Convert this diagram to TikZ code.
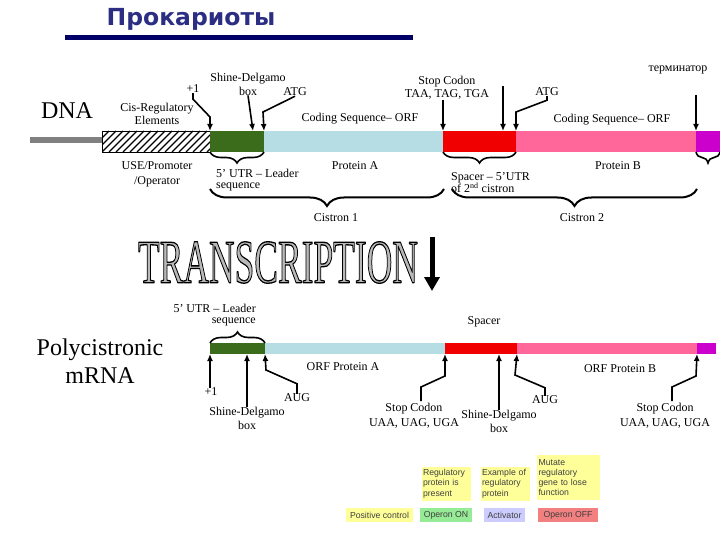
\documentclass[tikz,border=0pt]{standalone}
\usepackage{fontspec}
\setmainfont{Liberation Serif}
\newfontfamily\titlefont{DejaVu Sans}
\newfontfamily\legendfont{Liberation Sans}
\usepackage{graphicx}
\usetikzlibrary{decorations.pathreplacing,arrows.meta,calc}
\definecolor{utrgreen}{RGB}{59,108,28}
\definecolor{orfblue}{RGB}{183,221,228}
\definecolor{spacerred}{RGB}{240,0,0}
\definecolor{orfpink}{RGB}{255,102,153}
\definecolor{termpurple}{RGB}{204,0,204}
\definecolor{titleblue}{RGB}{43,46,131}
\definecolor{rulenavy}{RGB}{0,0,102}
\definecolor{dnagray}{RGB}{128,128,128}
\definecolor{legyellow}{RGB}{255,255,153}
\definecolor{leggreen}{RGB}{150,235,150}
\definecolor{legviolet}{RGB}{204,204,255}
\definecolor{legred}{RGB}{242,128,128}
\newcommand\outlinedword[1]{{\fontsize{62}{62}\selectfont\color{gray!55}\special{pdf:literal direct 2 Tr 1.3 w 1 j 0 0 0 RG}#1\special{pdf:literal direct 0 Tr}}}
\begin{document}
\begin{tikzpicture}[x=1pt,y=-1pt,
  lbl/.style={font=\fontsize{12}{13}\selectfont, inner sep=0pt, align=center},
  biglbl/.style={font=\fontsize{24}{28}\selectfont, inner sep=0pt, align=center},
  seg/.style={inner sep=0pt, outer sep=0pt, draw=none},
  ptr/.style={line width=1.6pt, -{Latex[length=7pt,width=6pt]}},
  brc/.style={line width=1.6pt, decorate, decoration={brace, amplitude=11pt}},
  bigbrc/.style={line width=2pt, decorate, decoration={brace, amplitude=17pt}},
  legbox/.style={font=\legendfont\fontsize{8.7}{10.3}\selectfont, text=black!75, inner sep=1.5pt, align=left, anchor=center},
]
\useasboundingbox (0,0) rectangle (720,540);

% title
\node[font=\titlefont\bfseries\fontsize{23.5}{26}\selectfont, text=titleblue, anchor=base, inner sep=0pt] (title) at (191,26) {Прокариоты};
\fill[rulenavy] (65,35) rectangle (413,40);

% ---------- DNA ----------
\node[biglbl] (dnalbl) at (67,111) {DNA};
\coordinate (gl) at (30,140);
\coordinate (gr) at (102,140);
\draw[line width=6pt, dnagray] (gl) -- (gr);
\begin{scope}
  \clip (102,131) rectangle (210,152);
  \foreach \i in {81,88,...,214} \draw[line width=1.3pt] (\i,152) -- (\i+21,131);
\end{scope}
\node[seg, draw=black, line width=0.8pt, minimum width=108pt, minimum height=21pt] (dhatch) at (156,141.5) {};
\node[seg, fill=utrgreen, minimum width=54pt, minimum height=21pt] (dgreen) at (237,141.5) {};
\node[seg, fill=orfblue, minimum width=179pt, minimum height=21pt] (dblue) at (353.5,141.5) {};
\node[seg, fill=spacerred, minimum width=73pt, minimum height=21pt] (dred) at (479.5,141.5) {};
\node[seg, fill=orfpink, minimum width=180pt, minimum height=21pt] (dpink) at (606,141.5) {};
\node[seg, fill=termpurple, minimum width=24pt, minimum height=21pt] (dpurple) at (708,141.5) {};

\node[lbl] (cis) at (157,114) {Cis-Regulatory\\Elements};
\node[lbl, font=\fontsize{12}{15}\selectfont] (use) at (157,174) {USE/Promoter\\/Operator};
\node[lbl] (p1) at (193,89) {+1};
\node[lbl, font=\fontsize{12}{14}\selectfont] (sd) at (248,84) {Shine-Delgamo\\box};
\node[lbl] (atg) at (295,92) {ATG};
\node[lbl] (cds1) at (360,119) {Coding Sequence– ORF};
\node[lbl] (stop) at (447,88) {Stop Codon\\TAA, TAG, TGA};
\node[lbl] (atg2) at (547,92) {ATG};
\node[lbl] (cds2) at (612,120) {Coding Sequence– ORF};
\node[lbl] (term) at (678,70) {терминатор};

\coordinate (sdhit) at (253,131);
\coordinate (sd2a) at (503,86);
\coordinate (terma) at (696,95);
\draw[ptr] (p1.south) -- ++(0,6) -- (210,117) -- (dgreen.north west);
\draw[ptr] (sd.south) -- (sdhit);
\draw[ptr] (atg.south) -- (263,112) -- (dgreen.north east);
\draw[ptr] (stop.south -| dred.north west) -- (dred.north west);
\draw[ptr] (sd2a) -- (sd2a |- dred.north);
\draw[ptr] (atg2.south) -- ++(0,4) -- (516,112) -- (dred.north east);
\draw[ptr] (terma) -- (dpurple.north west);

\draw[brc] (dgreen.south east) -- (dgreen.south west);
\draw[brc] (dred.south east) -- (dred.south west);
\draw[brc] (dpurple.south east) -- (dpurple.south west);

\node[lbl, anchor=west, align=left, font=\fontsize{12}{11}\selectfont] (utr) at (216,180) {5’ UTR – Leader\\sequence};
\node[lbl] (pa) at (355,166) {Protein A};
\node[lbl, anchor=west, align=left, font=\fontsize{12}{12.5}\selectfont] (spc) at (451,182.5) {Spacer – 5’UTR\\of 2\textsuperscript{nd} cistron};
\node[lbl] (pb) at (618,166) {Protein B};

\coordinate (c1l) at (210,189);
\coordinate (c1r) at (444,189);
\coordinate (c2l) at (452,189);
\coordinate (c2r) at (697,189);
\draw[bigbrc] (c1r) -- (c1l);
\draw[bigbrc] (c2r) -- (c2l);
\node[lbl] (cis1) at (336,218) {Cistron 1};
\node[lbl] (cis2) at (582,218) {Cistron 2};

% ---------- transcription ----------
\node[inner sep=0pt] (tr) at (278,262.5) {\resizebox{280pt}{41pt}{\outlinedword{TRANSCRIPTION}}};
\coordinate (tra) at (432,237);
\coordinate (trb) at (432,291);
\draw[line width=5pt, -{Triangle[length=14pt,width=15pt]}] (tra) -- (trb);

% ---------- mRNA ----------
\node[biglbl] (poly) at (100,361) {Polycistronic\\mRNA};
\node[seg, fill=utrgreen, minimum width=55pt, minimum height=11pt] (mgreen) at (237.5,348.5) {};
\node[seg, fill=orfblue, minimum width=180pt, minimum height=11pt] (mblue) at (355,348.5) {};
\node[seg, fill=spacerred, minimum width=72pt, minimum height=11pt] (mred) at (481,348.5) {};
\node[seg, fill=orfpink, minimum width=180pt, minimum height=11pt] (mpink) at (607,348.5) {};
\node[seg, fill=termpurple, minimum width=19pt, minimum height=11pt] (mpurple) at (706.5,348.5) {};

\draw[brc] (mgreen.north west) -- (mgreen.north east);
\node[lbl, anchor=east, align=right, font=\fontsize{12}{11}\selectfont] (utr2) at (256,315.5) {5’ UTR – Leader\\sequence};
\node[lbl] (spc2) at (484,322) {Spacer};
\node[lbl] (orfa) at (343,367) {ORF Protein A};
\node[lbl] (orfb) at (620,369) {ORF Protein B};

\node[lbl] (mp1) at (211,392) {+1};
\node[lbl, font=\fontsize{12}{14}\selectfont] (msd) at (247,418) {Shine-Delgamo\\box};
\node[lbl] (maug) at (297,398) {AUG};
\node[lbl, font=\fontsize{12}{15}\selectfont] (mstop) at (414,415.5) {Stop Codon\\UAA, UAG, UGA};
\node[lbl, font=\fontsize{12}{14}\selectfont] (msd2) at (499,421) {Shine-Delgamo\\box};
\node[lbl] (maug2) at (545,400) {AUG};
\node[lbl, font=\fontsize{12}{15}\selectfont] (mstop2) at (665,415.5) {Stop Codon\\UAA, UAG, UGA};

\coordinate (ms1) at (421,401);
\coordinate (ms3) at (672,401);
\draw[ptr] (mgreen.south west |- mp1.north) -- (mgreen.south west);
\draw[ptr] (msd.north) -- (msd.north |- mgreen.south);
\draw[ptr] (maug.north) -- ++(0,-10) -- (266,370) -- (mgreen.south east);
\draw[ptr] (ms1) -- (421,387) -- (445,376) -- (mred.south west);
\draw[ptr] (msd2.north) -- (msd2.north |- mred.south);
\draw[ptr] (maug2.north) -- ++(0,-8) -- (515,375) -- (mred.south east);
\draw[ptr] (ms3) -- (672,387) -- (696,376) -- (mpurple.south west);

% ---------- legend ----------
\node[legbox, fill=legyellow, minimum height=34pt, text width=46pt] (lr) at (446,483.5) {Regulatory\\protein is\\present};
\node[legbox, fill=legyellow, minimum height=34pt, text width=46pt] (le) at (505,483.5) {Example of\\regulatory\\protein};
\node[legbox, fill=legyellow, minimum height=45pt, text width=60pt] (lm) at (568.5,477.5) {Mutate\\regulatory\\gene to lose\\function};
\node[legbox, fill=legyellow, minimum width=67pt, minimum height=14pt] (lpc) at (379.5,515) {Positive control};
\node[legbox, fill=leggreen, minimum width=52pt, minimum height=14pt] (lon) at (446,515) {Operon ON};
\node[legbox, fill=legviolet, minimum width=41pt, minimum height=14pt] (lact) at (504.5,515) {Activator};
\node[legbox, fill=legred, minimum width=60pt, minimum height=14pt] (loff) at (568,515) {Operon OFF};
\end{tikzpicture}
\end{document}
